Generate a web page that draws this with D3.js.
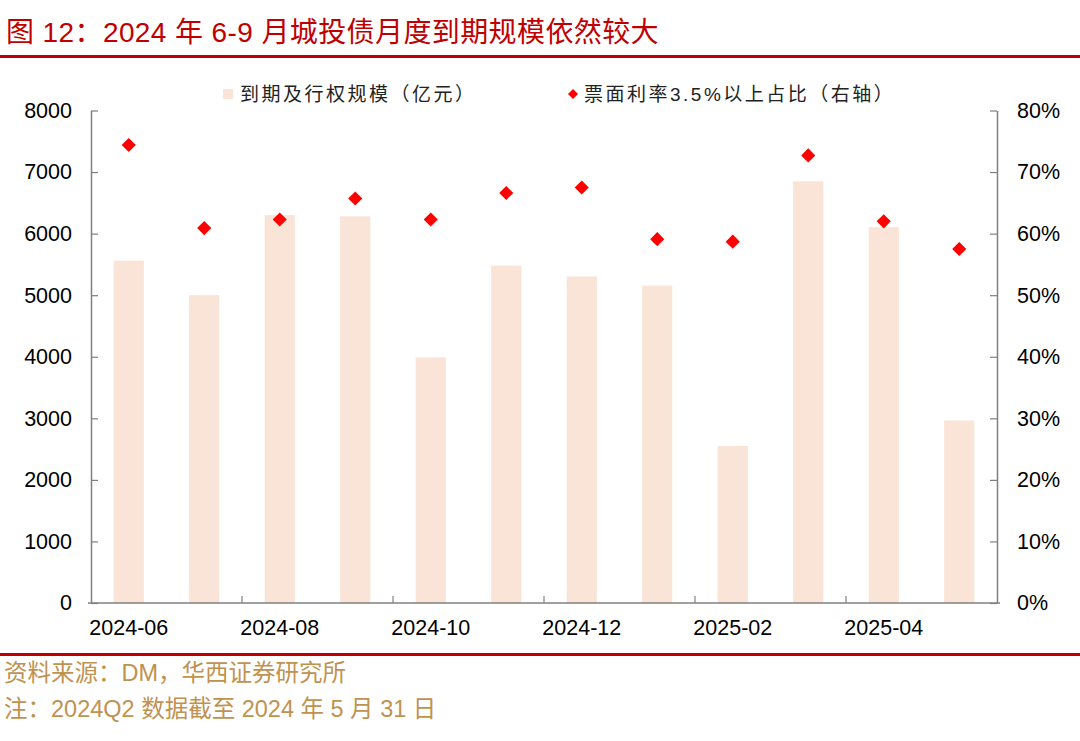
<!DOCTYPE html>
<html>
<head>
<meta charset="utf-8">
<script src="https://cdn.jsdelivr.net/npm/d3@7"></script>
<style>
  body { margin: 0; background: #fff; }
  text { font-family: "Liberation Sans", Arial, sans-serif; }
  .cjk { font-family: "Liberation Sans", "Noto Sans CJK SC", sans-serif; }
</style>
</head>
<body>
<div id="chart"></div>
<script>
const months = ['2024-06', '2024-07', '2024-08', '2024-09', '2024-10', '2024-11',
  '2024-12', '2025-01', '2025-02', '2025-03', '2025-04', '2025-05']
// 到期及行权规模（亿元）
const maturity = [5560, 5000, 6300, 6280, 3990, 5480, 5305, 5155, 2550, 6850, 6105, 2965]
// 票面利率3.5%以上占比（右轴）
const highCouponShare = [0.744, 0.609, 0.623, 0.657, 0.623, 0.666, 0.675, 0.591, 0.587, 0.727, 0.620, 0.575]
const leftTicks = [0, 1000, 2000, 3000, 4000, 5000, 6000, 7000, 8000]
const rightTicks = [0, 0.1, 0.2, 0.3, 0.4, 0.5, 0.6, 0.7, 0.8]

const W = 1080, H = 741
const plot = {left: 91, right: 997, top: 110.5, bottom: 603}
const red = '#c00000'
const axisGrey = '#808080'

const svg = d3.select('#chart').append('svg')
  .attr('width', W).attr('height', H)

// title + rules
svg.append('text')
  .attr('class', 'cjk')
  .attr('x', 6).attr('y', 42)
  .attr('fill', red)
  .attr('font-size', 28)
  .attr('letter-spacing', 0.4)
  .text('图 12：2024 年 6-9 月城投债月度到期规模依然较大')
svg.append('rect').attr('x', 0).attr('y', 55).attr('width', W).attr('height', 3).attr('fill', red)
svg.append('rect').attr('x', 0).attr('y', 653).attr('width', W).attr('height', 3).attr('fill', red)

const x = d3.scaleBand()
  .domain(months)
  .range([plot.left, plot.right])
  .paddingInner(0.6)
  .paddingOuter(0.3)
const y = d3.scaleLinear().domain([0, 8000]).range([plot.bottom, plot.top])
const y2 = d3.scaleLinear().domain([0, 0.8]).range([plot.bottom, plot.top])

// bars
svg.selectAll('.bar')
  .data(months)
  .enter()
    .append('rect')
      .attr('class', 'bar')
      .attr('x', d => x(d))
      .attr('width', x.bandwidth())
      .attr('y', (d, i) => y(maturity[i]))
      .attr('height', (d, i) => plot.bottom - y(maturity[i]))
      .attr('fill', '#fae4d7')

// axes
const leftAxis = svg.append('g')
  .attr('transform', `translate(${plot.left},0)`)
  .call(d3.axisLeft(y).tickValues(leftTicks).tickSizeInner(-7).tickSizeOuter(0)
    .tickPadding(19).tickFormat(d3.format('d')))
const rightAxis = svg.append('g')
  .attr('transform', `translate(${plot.right},0)`)
  .call(d3.axisRight(y2).tickValues(rightTicks).tickSizeInner(-7).tickSizeOuter(0)
    .tickPadding(20).tickFormat(d3.format('.0%')))
const bottomAxis = svg.append('g')
  .attr('transform', `translate(0,${plot.bottom})`)
  .call(d3.axisBottom(x).tickValues(months.filter((d, i) => i % 2 === 0)).tickSize(0).tickPadding(17))

for (const g of [leftAxis, rightAxis, bottomAxis]) {
  g.select('.domain').attr('stroke', axisGrey).attr('stroke-width', 1.5)
  g.selectAll('.tick line').attr('stroke', axisGrey).attr('stroke-width', 1.2)
  g.selectAll('.tick text')
    .attr('fill', '#000')
    .attr('font-size', 21.5)
    .attr('font-family', '"Liberation Sans", Arial, sans-serif')
}
bottomAxis.select('.domain').attr('d', `M${plot.left - 3},0H${plot.right + 3}`)

// category boundary ticks every two months
const step = x.step()
const boundaries = months.filter((d, i) => i > 0 && i % 2 === 0)
svg.selectAll('.xtick')
  .data(boundaries)
  .enter()
    .append('line')
      .attr('x1', d => x(d) - (step - x.bandwidth()) / 2)
      .attr('x2', d => x(d) - (step - x.bandwidth()) / 2)
      .attr('y1', plot.bottom)
      .attr('y2', plot.bottom - 7)
      .attr('stroke', axisGrey)
      .attr('stroke-width', 1.2)

// diamonds
const diamond = d3.symbol().type(d3.symbolSquare).size(100)
svg.selectAll('.pt')
  .data(months)
  .enter()
    .append('path')
      .attr('class', 'pt')
      .attr('d', diamond)
      .attr('transform', (d, i) => `translate(${x(d) + x.bandwidth() / 2},${y2(highCouponShare[i])}) rotate(45)`)
      .attr('fill', '#ff0000')

// legend
const legend = svg.append('g').attr('font-size', 19).attr('letter-spacing', 2.5).attr('fill', '#222')
legend.append('rect').attr('x', 223).attr('y', 89).attr('width', 10).attr('height', 10).attr('fill', '#fae4d7')
legend.append('text').attr('class', 'cjk').attr('x', 240).attr('y', 101).text('到期及行权规模（亿元）')
legend.append('path').attr('d', d3.symbol().type(d3.symbolSquare).size(50))
  .attr('transform', 'translate(573,94) rotate(45)').attr('fill', '#ff0000')
legend.append('text').attr('class', 'cjk').attr('x', 584).attr('y', 101).text('票面利率3.5%以上占比（右轴）')

// footer
const gold = '#c0924f'
svg.append('text').attr('class', 'cjk').attr('x', 4).attr('y', 681).attr('fill', gold)
  .attr('font-size', 23.5)
  .text('资料来源：DM，华西证券研究所')
svg.append('text').attr('class', 'cjk').attr('x', 4).attr('y', 717).attr('fill', gold)
  .attr('font-size', 23.5)
  .text('注：2024Q2 数据截至 2024 年 5 月 31 日')
</script>
</body>
</html>
